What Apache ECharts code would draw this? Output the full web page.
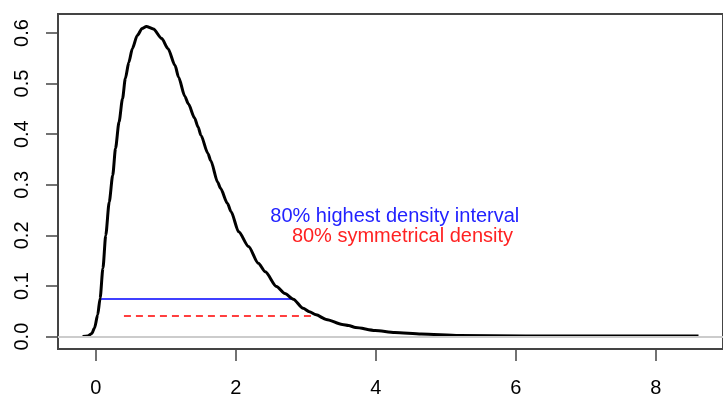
<!DOCTYPE html>
<html>
<head>
<meta charset="utf-8">
<script src="https://cdn.jsdelivr.net/npm/echarts@6/dist/echarts.min.js"></script>
<style>
  html, body { margin: 0; padding: 0; background: #fff; }
  #chart { width: 723px; height: 398px; }
</style>
</head>
<body>
<div id="chart"></div>
<script>
// density curve
const densX = [-0.19, -0.12, -0.06, -0.02, 0.025, 0.06, 0.10, 0.14, 0.19, 0.24, 0.28, 0.33, 0.38, 0.42, 0.47, 0.52, 0.59, 0.66, 0.72, 0.82, 0.94, 1.03, 1.13, 1.18, 1.27, 1.32, 1.41, 1.46, 1.50, 1.60, 1.64, 1.74, 1.78, 1.88, 1.93, 2.04, 2.18, 2.32, 2.42, 2.58, 2.70, 2.82, 2.96, 3.05, 3.145, 3.29, 3.52, 3.61, 3.71, 3.99, 4.27, 4.65, 5.19, 6.14, 7.5, 8.61]
const densY = [0.000, 0.001, 0.006, 0.017, 0.043, 0.076, 0.135, 0.20, 0.266, 0.319, 0.372, 0.424, 0.470, 0.510, 0.542, 0.569, 0.595, 0.609, 0.613, 0.608, 0.589, 0.569, 0.536, 0.513, 0.475, 0.460, 0.432, 0.414, 0.398, 0.362, 0.348, 0.305, 0.293, 0.263, 0.247, 0.207, 0.178, 0.145, 0.128, 0.099, 0.085, 0.074, 0.056, 0.049, 0.043, 0.034, 0.024, 0.022, 0.018, 0.012, 0.008, 0.005, 0.002, 0.0013, 0.001, 0.001]

// 80% intervals: [from, to] and the density level they are drawn at
const hdiX = [0.05, 2.82]
const hdiLevel = 0.0744
const symX = [0.40, 3.11]
const symLevel = 0.0408

// legend texts: [x, y, text]
const hdiText = [4.27, 0.238, '80% highest density interval']
const symText = [4.38, 0.198, '80% symmetrical density']

const xTicks = [0, 2, 4, 6, 8]
const yTicks = [0, 0.1, 0.2, 0.3, 0.4, 0.5, 0.6]

const font = "'Liberation Sans', Arial, sans-serif"
const boxColor = '#444'

function pairs(xs, ys) {
  return xs.map((x, i) => [x, ys[i]])
}

const myChart = echarts.init(document.getElementById('chart'), null, { renderer: 'canvas' })

const option = {
  animation: false,
  backgroundColor: '#fff',
  textStyle: { fontFamily: font },
  grid: {
    show: true,
    left: 58,
    top: 14,
    width: 675,
    height: 335.5,
    borderColor: boxColor,
    borderWidth: 2,
    backgroundColor: 'transparent'
  },
  xAxis: {
    type: 'value',
    min: -0.542,
    max: 8.96,
    splitLine: { show: false },
    axisLine: { show: false, onZero: false },
    axisTick: {
      show: true,
      length: 12,
      customValues: xTicks,
      lineStyle: { color: boxColor, width: 1.5 }
    },
    axisLabel: {
      customValues: xTicks,
      margin: 29,
      color: '#000',
      fontSize: 20,
      fontFamily: font
    }
  },
  yAxis: {
    type: 'value',
    min: -0.0245,
    max: 0.6375,
    splitLine: { show: false },
    axisLine: { show: false, onZero: false },
    axisTick: {
      show: true,
      length: 12,
      customValues: yTicks,
      lineStyle: { color: boxColor, width: 1.5 }
    },
    axisLabel: {
      customValues: yTicks,
      rotate: 90,
      margin: 26,
      color: '#000',
      fontSize: 20,
      fontFamily: font,
      formatter: v => v.toFixed(1)
    }
  },
  series: [
    {
      type: 'line',
      data: pairs(densX, densY),
      showSymbol: false,
      smooth: 0.25,
      smoothMonotone: 'x',
      z: 3,
      lineStyle: { color: '#000', width: 3 },
      itemStyle: { color: '#000' }
    },
    {
      type: 'line',
      data: hdiX.map(x => [x, hdiLevel]),
      showSymbol: false,
      z: 2,
      lineStyle: { color: '#0000ff', width: 1.6 },
      // abline(h = 0)
      markLine: {
        silent: true,
        symbol: 'none',
        label: { show: false },
        lineStyle: { color: '#cccccc', width: 2, type: 'solid' },
        data: [{ yAxis: 0 }]
      },
      markPoint: {
        symbol: 'circle',
        symbolSize: 0,
        silent: true,
        label: {
          show: true,
          position: 'inside',
          formatter: hdiText[2],
          color: '#2222ff',
          fontSize: 20,
          fontFamily: font
        },
        data: [{ coord: [hdiText[0], hdiText[1]] }]
      }
    },
    {
      type: 'line',
      data: symX.map(x => [x, symLevel]),
      showSymbol: false,
      z: 2,
      lineStyle: { color: '#ff0000', width: 1.5, type: [7, 5] },
      markPoint: {
        symbol: 'circle',
        symbolSize: 0,
        silent: true,
        label: {
          show: true,
          position: 'inside',
          formatter: symText[2],
          color: '#ff2222',
          fontSize: 20,
          fontFamily: font
        },
        data: [{ coord: [symText[0], symText[1]] }]
      }
    }
  ]
}

myChart.setOption(option)
window.addEventListener('resize', () => {
  myChart && myChart.resize()
})
</script>
</body>
</html>
